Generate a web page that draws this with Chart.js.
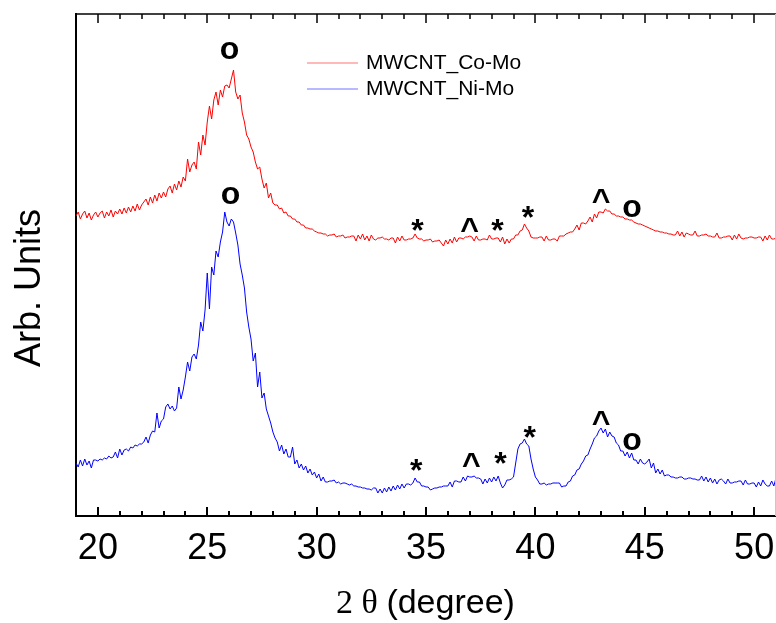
<!DOCTYPE html>
<html>
<head>
<meta charset="utf-8">
<title>XRD MWCNT</title>
<script src="https://cdn.jsdelivr.net/npm/chart.js@4.4.0/dist/chart.umd.min.js"></script>
<style>
  html, body { margin: 0; padding: 0; background: #fff; }
  canvas { display: block; }
</style>
</head>
<body>
<canvas id="xrd" width="776" height="623"></canvas>
<script>
// 2-theta scan, 19..51 deg, one reading every 0.1 deg (arbitrary intensity)
var thetaStart = 19, thetaStep = 0.1;

var coMo = [
  300,304,297,302,305,298,303,296,301,304,
  299,303,305,298,304,300,306,299,305,302,
  307,302,308,303,309,304,310,305,312,306,
  311,314,317,311,319,313,321,315,323,318,
  324,319,327,330,323,332,326,335,329,339,
  335,357,344,351,354,347,374,361,381,371,
  394,410,397,416,424,411,426,419,430,431,
  428,437,446,424,417,421,403,394,381,377,
  369,364,354,347,349,337,328,333,318,323,
  313,311,311,307,308,303,304,300,300,297,
  297,294,294,291,291,288,288,287,287,285,
  284,283,283,282,282,280,281,281,282,279,
  280,280,281,278,279,279,280,280,275,281,
  277,282,276,280,275,281,277,276,278,278,
  279,277,277,276,278,278,273,279,275,280,
  276,276,277,277,278,282,278,277,277,275,
  276,276,277,274,275,275,276,273,270,276,
  272,277,273,279,274,278,278,277,279,279,
  280,279,275,280,276,276,277,277,276,281,
  277,277,278,278,274,279,272,277,273,277,
  277,281,281,285,286,292,288,285,279,278,
  278,278,279,279,275,280,276,276,277,277,
  275,280,280,280,282,283,284,284,287,291,
  286,293,293,292,295,299,294,302,298,304,
  304,303,307,305,305,302,302,300,300,299,
  299,297,297,296,296,294,293,292,292,291,
  290,289,288,287,286,285,285,284,284,283,
  283,282,282,281,281,285,280,284,279,283,
  282,281,281,285,280,280,281,281,282,280,
  280,279,279,283,278,278,279,279,280,280,
  276,281,277,282,278,277,278,278,279,279,
  278,278,279,279,275,280,276,281,277,277,
  278
];

var niMo = [
  53,49,56,50,57,51,55,48,56,56,
  55,57,56,58,57,60,58,59,64,58,
  67,61,66,67,65,69,68,71,70,72,
  72,74,79,73,81,85,84,103,88,95,
  97,109,112,107,110,105,108,129,117,126,
  139,154,145,159,162,157,171,194,185,206,
  243,207,249,241,265,259,274,284,304,294,
  290,297,294,283,271,252,241,228,204,189,
  177,155,163,129,144,118,123,107,100,93,
  84,78,74,65,71,62,67,59,59,69,
  52,56,48,52,46,50,43,47,41,44,
  38,42,35,39,34,34,35,35,36,33,
  34,32,33,33,32,31,32,30,30,29,
  29,28,28,27,27,26,28,28,23,27,
  23,28,24,29,25,30,26,31,27,32,
  28,32,32,31,33,38,34,34,30,30,
  29,29,26,27,28,28,29,29,30,30,
  30,34,29,35,35,34,34,39,35,40,
  39,39,40,38,38,37,32,37,33,38,
  34,39,35,40,33,28,31,36,36,37,
  39,53,67,72,73,77,72,70,57,47,
  39,36,32,32,33,31,32,32,33,33,
  33,33,29,30,30,34,35,40,41,46,
  47,52,55,60,61,67,72,78,80,85,
  88,83,87,79,84,80,79,73,71,65,
  65,60,64,58,63,56,56,52,57,53,
  52,54,57,48,53,43,47,42,46,40,
  41,41,39,39,38,38,39,39,37,37,
  38,38,37,37,36,36,40,35,39,34,
  38,33,37,32,36,37,35,32,37,33,
  33,34,34,35,35,31,36,32,32,33,
  33,29,34,30,36,32,30,30,35,30,
  38
];

var seriesNames = ['MWCNT_Co-Mo', 'MWCNT_Ni-Mo'];
var seriesColors = ['#ff0000', '#0000ff'];
var xTicks = [20, 25, 30, 35, 40, 45, 50];

// reflection markers written over the peaks (theta, intensity, symbol)
var markTheta = [26.02, 34.61, 36.99, 38.27, 39.66, 43.0, 44.42,
                 26.06, 34.55, 37.07, 38.4, 39.74, 43.0, 44.42];
var markLevel = [466, 291, 291, 291, 304, 320, 308,
                 321, 51, 56, 58, 84, 98, 75];
var markSymbol = ['o', '*', '^', '*', '*', '^', 'o',
                  'o', '*', '^', '*', '*', '^', 'o'];

function toPoints(vals) {
  return vals.map(function (v, i) {
    return { x: +(thetaStart + i * thetaStep).toFixed(1), y: v };
  });
}

var SANS = 'Arial, "Liberation Sans", sans-serif';
var SERIF = '"Times New Roman", "Liberation Serif", serif';

var decor = {
  id: 'decor',
  afterDraw: function (chart) {
    var ctx = chart.ctx, a = chart.chartArea;
    var xs = chart.scales.x, ys = chart.scales.y;
    ctx.save();

    // frame: top line and faint right edge
    ctx.strokeStyle = '#000';
    ctx.lineWidth = 1.5;
    ctx.beginPath();
    ctx.moveTo(a.left - 1, a.top);
    ctx.lineTo(a.right, a.top);
    ctx.stroke();
    ctx.strokeStyle = '#c8c8c8';
    ctx.lineWidth = 1;
    ctx.beginPath();
    ctx.moveTo(a.right - 0.5, a.top);
    ctx.lineTo(a.right - 0.5, a.bottom);
    ctx.stroke();

    // inward ticks on bottom and top, minor every degree
    ctx.strokeStyle = '#000';
    for (var t = 20; t <= 50; t++) {
      var px = Math.round(xs.getPixelForValue(t));
      var len = (t % 5 === 0) ? 9 : 5;
      ctx.lineWidth = 2;
      ctx.beginPath();
      ctx.moveTo(px, a.bottom);
      ctx.lineTo(px, a.bottom - len);
      ctx.stroke();
      ctx.lineWidth = 1.5;
      ctx.beginPath();
      ctx.moveTo(px, a.top);
      ctx.lineTo(px, a.top + len);
      ctx.stroke();
    }

    // peak symbols, centred on their glyph box
    ctx.fillStyle = '#000';
    ctx.textAlign = 'center';
    ctx.textBaseline = 'alphabetic';
    ctx.font = 'bold 32px ' + SANS;
    for (var i = 0; i < markSymbol.length; i++) {
      var m = ctx.measureText(markSymbol[i]);
      var cx = xs.getPixelForValue(markTheta[i]);
      var cy = ys.getPixelForValue(markLevel[i]);
      var base = cy + (m.actualBoundingBoxAscent - m.actualBoundingBoxDescent) / 2;
      ctx.fillText(markSymbol[i], cx, base);
    }

    // legend
    var legY = [63, 89], legBase = [69, 95];
    ctx.textAlign = 'left';
    ctx.font = '21px ' + SANS;
    for (var k = 0; k < seriesNames.length; k++) {
      ctx.strokeStyle = seriesColors[k];
      ctx.lineWidth = 1;
      ctx.globalAlpha = 0.55;
      ctx.beginPath();
      ctx.moveTo(307, legY[k]);
      ctx.lineTo(358, legY[k]);
      ctx.stroke();
      ctx.globalAlpha = 1;
      ctx.fillText(seriesNames[k], 366, legBase[k]);
    }

    // y title
    ctx.save();
    ctx.translate(40, 288);
    ctx.rotate(-Math.PI / 2);
    ctx.textAlign = 'center';
    ctx.font = '36px ' + SANS;
    ctx.fillText('Arb. Units', 0, 0);
    ctx.restore();

    // x title: serif symbol part, sans unit part
    var partA = '2 \u03b8 ', partB = '(degree)';
    ctx.font = '34px ' + SERIF;
    var wA = ctx.measureText(partA).width;
    ctx.font = '34px ' + SANS;
    var wB = ctx.measureText(partB).width;
    var x0 = 425.5 - (wA + wB) / 2;
    ctx.textAlign = 'left';
    ctx.font = '34px ' + SERIF;
    ctx.fillText(partA, x0, 613);
    ctx.font = '34px ' + SANS;
    ctx.fillText(partB, x0 + wA, 613);

    ctx.restore();
  }
};

new Chart(document.getElementById('xrd'), {
  type: 'line',
  data: {
    datasets: [
      { label: seriesNames[0], data: toPoints(coMo), borderColor: seriesColors[0],
        borderWidth: 1, pointRadius: 0, tension: 0, fill: false },
      { label: seriesNames[1], data: toPoints(niMo), borderColor: seriesColors[1],
        borderWidth: 1, pointRadius: 0, tension: 0, fill: false }
    ]
  },
  options: {
    responsive: false,
    animation: false,
    devicePixelRatio: 1,
    layout: { padding: { top: 14, right: 0, bottom: 0, left: 0 } },
    plugins: { legend: { display: false }, tooltip: { enabled: false } },
    scales: {
      x: {
        type: 'linear',
        min: 19,
        max: 51,
        grid: { display: false, drawTicks: false },
        border: { display: true, color: '#000', width: 2 },
        ticks: { color: '#000', padding: 11, font: { family: SANS, size: 36 } },
        afterBuildTicks: function (s) {
          s.ticks = xTicks.map(function (v) { return { value: v }; });
        },
        afterFit: function (s) {
          s.height = 107;
          s.paddingLeft = 0;
          s.paddingRight = 0;
        }
      },
      y: {
        min: 0,
        max: 502,
        grid: { display: false, drawTicks: false },
        border: { display: true, color: '#000', width: 2 },
        ticks: { display: false },
        afterFit: function (s) { s.width = 76; }
      }
    }
  },
  plugins: [decor]
});
</script>
</body>
</html>
